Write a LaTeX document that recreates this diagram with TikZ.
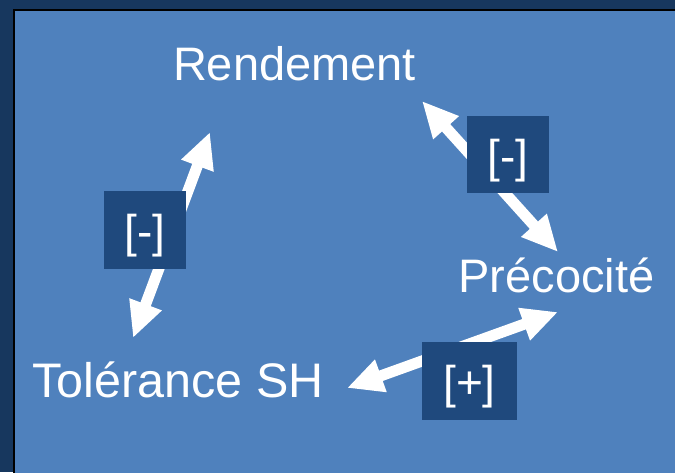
\documentclass[tikz,border=0pt]{standalone}
\usepackage{fontspec}
\setmainfont{Liberation Sans}
\usetikzlibrary{arrows.meta}
\definecolor{outernavy}{RGB}{23,55,94}
\definecolor{panelblue}{RGB}{79,129,189}
\definecolor{boxblue}{RGB}{31,73,125}
\tikzset{
  lbl/.style={text=white, anchor=base, inner sep=0pt, font=\fontsize{47}{47}\selectfont},
  lblbig/.style={text=white, anchor=base, inner sep=0pt, font=\fontsize{48.5}{48.5}\selectfont},
  signbox/.style={fill=boxblue, draw=none},
  signtxt/.style={text=white, anchor=base, inner sep=0pt, font=\fontsize{46}{46}\selectfont},
  biarrow/.style={white, line width=11pt, {Triangle[width=32pt,length=36pt]}-{Triangle[width=32pt,length=36pt]}}
}
\begin{document}
\begin{tikzpicture}[x=1pt,y=-1pt]
\useasboundingbox (0,0) rectangle (675,472);
\fill[outernavy] (0,0) rectangle (675,472);
\begin{scope}
\clip (0,0) rectangle (675,472);
\draw[black, line width=2pt, fill=panelblue] (14,10) rectangle (700,500);
\end{scope}
% endpoints
\coordinate (a1) at (210,132);
\coordinate (a2) at (133,338);
\coordinate (b1) at (422,101);
\coordinate (b2) at (558,252);
\coordinate (c1) at (558,312);
\coordinate (c2) at (347,388);
\draw[biarrow] (a1) -- (a2);
\draw[biarrow] (b1) -- (b2);
\draw[biarrow] (c1) -- (c2);
% sign boxes
\fill[signbox] (104,191) rectangle (186,269);
\node[signtxt] (s1) at (145,247) {[-]};
\fill[signbox] (467,116) rectangle (549,193);
\node[signtxt] (s2) at (508,172) {[-]};
\fill[signbox] (422,342) rectangle (517,420);
\node[signtxt] (s3) at (469.5,398) {[+]};
% labels
\node[lbl] (rend) at (294.5,80) {Rendement};
\node[lbl] (prec) at (556.5,292) {Précocité};
\node[lblbig] (tol) at (178,397) {Tolérance SH};
\end{tikzpicture}
\end{document}
